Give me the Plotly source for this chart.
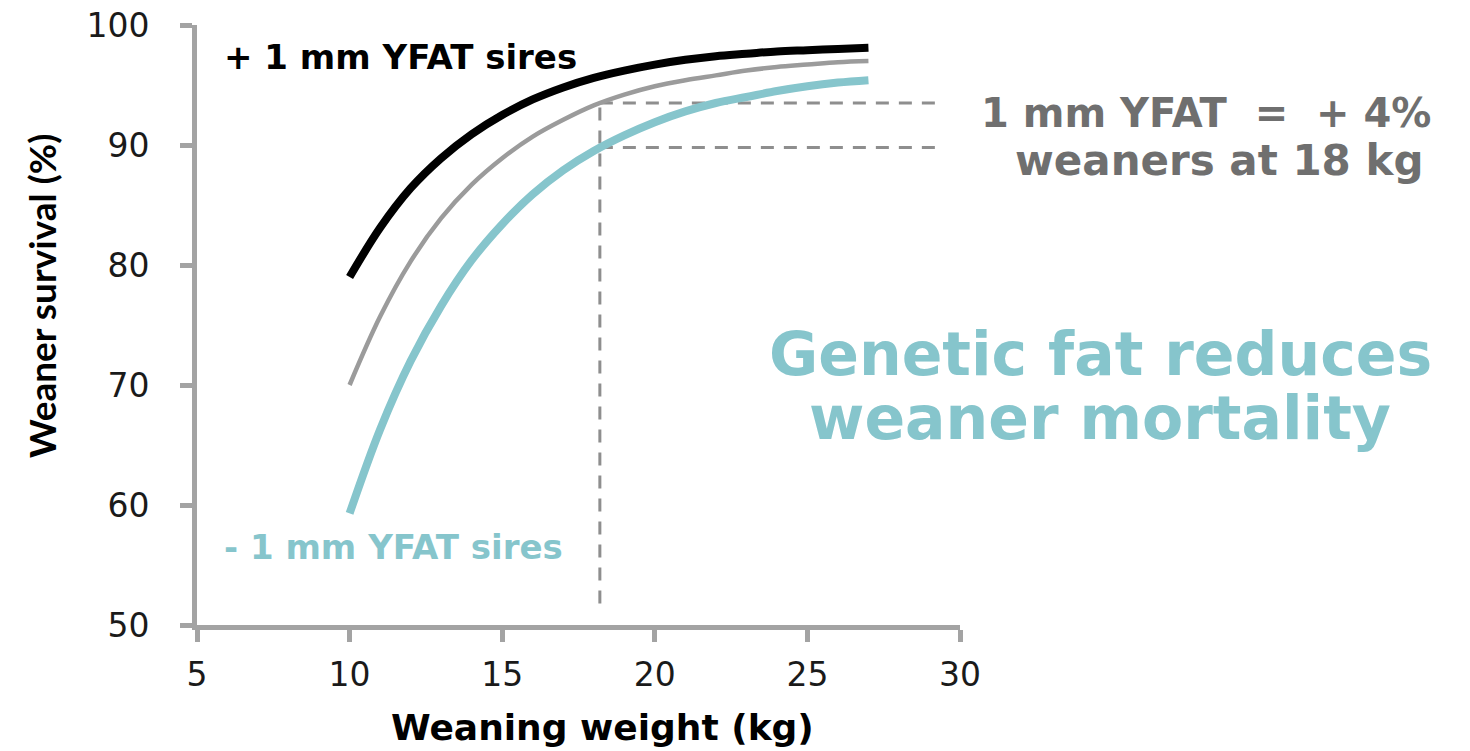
import plotly.graph_objects as go

# Data
weaning_weight = [10, 11, 12, 13, 14, 15, 16, 17, 18, 19, 20, 21, 22, 23, 24, 25, 26, 27]
survival_plus_1mm = [79.0, 83.1, 86.4, 88.9, 90.9, 92.5, 93.8, 94.8, 95.6, 96.2, 96.7, 97.1, 97.4, 97.6, 97.8, 97.9, 98.0, 98.1]
survival_average = [70.0, 75.7, 80.3, 83.9, 86.7, 88.9, 90.7, 92.1, 93.3, 94.2, 94.9, 95.4, 95.8, 96.2, 96.5, 96.7, 96.9, 97.0]
survival_minus_1mm = [59.3, 66.3, 72.0, 76.6, 80.4, 83.4, 85.9, 87.9, 89.5, 90.8, 91.9, 92.8, 93.5, 94.0, 94.5, 94.9, 95.2, 95.4]

# Reference guide lines at 18 kg
guide_weight = 18.2
guide_weight_end = 29.5
guide_high = 93.5
guide_low = 89.8
guide_bottom = 51.8

x_ticks = [5, 10, 15, 20, 25, 30]
y_ticks = [50, 60, 70, 80, 90, 100]

AXIS = "#a3a3a3"
CYAN = "#86c5cc"
GREY_LINE = "#9b9b9b"
DASH = "#8e8e8e"
TEXT_GREY = "#6f6f6f"

fig = go.Figure()

# dashed guides
for gx, gy in ([[guide_weight, guide_weight], [guide_bottom, guide_high]],
               [[guide_weight, guide_weight_end], [guide_high, guide_high]],
               [[guide_weight, guide_weight_end], [guide_low, guide_low]]):
    fig.add_trace(go.Scatter(x=gx, y=gy, mode="lines",
                             line=dict(color=DASH, width=3, dash="13px,10px"),
                             hoverinfo="skip", showlegend=False))

fig.add_trace(go.Scatter(x=weaning_weight, y=survival_minus_1mm, mode="lines", name="- 1 mm YFAT sires",
                         line=dict(color=CYAN, width=8, shape="spline"), showlegend=False))
fig.add_trace(go.Scatter(x=weaning_weight, y=survival_average, mode="lines", name="Average",
                         line=dict(color=GREY_LINE, width=4.5, shape="spline"), showlegend=False))
fig.add_trace(go.Scatter(x=weaning_weight, y=survival_plus_1mm, mode="lines", name="+ 1 mm YFAT sires",
                         line=dict(color="#000000", width=8, shape="spline"), showlegend=False))

# plot box in page pixels: left 197, right 960, top 25, bottom 625 (body margin removed below)
W, H = 1470, 751
PL, PR, PT, PB = 197, 960, 25, 625
L, T = PL, PT
R, B = W - PR, H - PB
pw, ph = PR - PL, PB - PT


def px(x):
    return (x - PL) / pw


def py(y):
    return (PB - y) / ph


annotations = [
    dict(text="<b>+ 1 mm YFAT sires</b>", x=px(222), y=py(57), xanchor="left", yanchor="middle",
         font=dict(family="DejaVu Sans", size=34, color="#000000")),
    dict(text="<b>- 1 mm YFAT sires</b>", x=px(222), y=py(547), xanchor="left", yanchor="middle",
         font=dict(family="DejaVu Sans", size=34, color=CYAN)),
    dict(text="<b>1 mm YFAT\u00a0\u00a0=\u00a0\u00a0+ 4%</b>", x=px(1206), y=py(113), xanchor="center", yanchor="middle",
         font=dict(family="DejaVu Sans", size=40, color=TEXT_GREY)),
    dict(text="<b>weaners at 18 kg</b>", x=px(1219), y=py(160), xanchor="center", yanchor="middle",
         font=dict(family="DejaVu Sans", size=42, color=TEXT_GREY)),
    dict(text="<b>Genetic fat reduces</b>", x=px(1100), y=py(354), xanchor="center", yanchor="middle",
         font=dict(family="DejaVu Sans", size=60, color=CYAN)),
    dict(text="<b>weaner mortality</b>", x=px(1100), y=py(418), xanchor="center", yanchor="middle",
         font=dict(family="DejaVu Sans", size=60, color=CYAN)),
    dict(text="<b>Weaner survival (%)</b>", x=px(41), y=py(296), xanchor="center", yanchor="middle", textangle=-90,
         font=dict(family="Lato", size=37, color="#000000")),
    dict(text="<b>Weaning weight (kg)</b>", x=px(602), y=py(727), xanchor="center", yanchor="middle",
         font=dict(family="DejaVu Sans", size=36, color="#000000")),
]
for a in annotations:
    a.update(xref="paper", yref="paper", showarrow=False)

axis_common = dict(showline=True, linecolor=AXIS, linewidth=5, ticks="outside", tickcolor=AXIS,
                   tickwidth=5, ticklen=12, showgrid=False, zeroline=False, automargin=False,
                   ticklabeloverflow="allow",
                   tickfont=dict(family="DejaVu Sans", size=33, color="#1a1a1a"))

fig.update_layout(
    width=W, height=H,
    margin=dict(l=L, r=R, t=T, b=B),
    paper_bgcolor="white", plot_bgcolor="white",
    xaxis=dict(range=[5, 30], tickvals=x_ticks, ticktext=[str(v) for v in x_ticks],
               ticklabelstandoff=4, **axis_common),
    yaxis=dict(range=[50, 100], tickvals=y_ticks, ticktext=[str(v) for v in y_ticks],
               ticklabelstandoff=24, **axis_common),
    annotations=annotations,
    showlegend=False,
)

fig.write_html("out.html", config={"displayModeBar": False},
               post_script="document.body.style.margin='0px';document.body.style.overflow='hidden';")
